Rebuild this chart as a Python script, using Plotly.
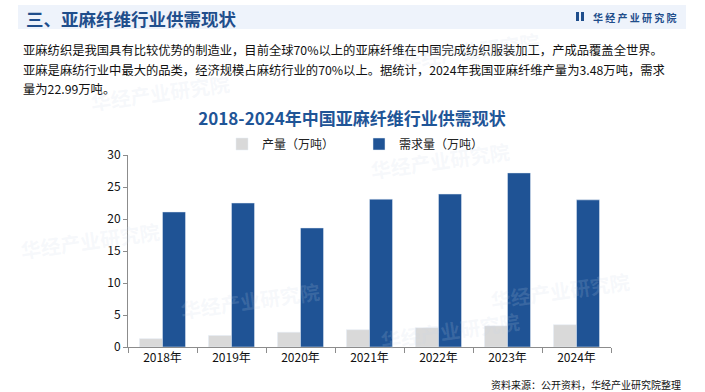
import plotly.graph_objects as go

years = ["2018年", "2019年", "2020年", "2021年", "2022年", "2023年", "2024年"]
supply = [1.3, 1.8, 2.3, 2.7, 3.0, 3.3, 3.48]
demand = [21.1, 22.5, 18.6, 23.1, 23.9, 27.2, 22.99]
series_names = ["产量（万吨）", "需求量（万吨）"]
y_ticks = [0, 5, 10, 15, 20, 25, 30]

W, H = 705, 392
L, R, T, B = 128, 611, 155, 347
FONT = "Noto Sans CJK SC"

def px(x):
    return (x - L) / (R - L)

def py(y):
    return (B - y) / (B - T)

fig = go.Figure()
fig.add_bar(x=years, y=supply, name=series_names[0], marker_color="#d9d9d9")
fig.add_bar(x=years, y=demand, name=series_names[1], marker_color="#1f5395")

shapes = [
    dict(type="rect", xref="paper", yref="paper", x0=px(18), x1=px(686), y0=py(29), y1=py(5),
         fillcolor="#eef3fb", line_width=0, layer="below"),
    dict(type="rect", xref="paper", yref="paper", x0=px(576), x1=px(579), y0=py(21), y1=py(12),
         fillcolor="#1f4e8c", line_width=0),
    dict(type="rect", xref="paper", yref="paper", x0=px(581), x1=px(584), y0=py(21), y1=py(12),
         fillcolor="#1f4e8c", line_width=0),
]

ann = [
    dict(text="<b>三、亚麻纤维行业供需现状</b>", x=px(24), y=py(18), xanchor="left", yanchor="middle",
         font=dict(size=17.5, color="#1f4e8c", family=FONT)),
    dict(text="<b>华 经 产 业 研 究 院</b>", x=px(591), y=py(17), xanchor="left", yanchor="middle",
         font=dict(size=10, color="#1f4e8c", family=FONT)),
    dict(text="亚麻纺织是我国具有比较优势的制造业，目前全球70%以上的亚麻纤维在中国完成纺织服装加工，产成品覆盖全世界。",
         x=px(21), y=py(50), xanchor="left", yanchor="middle", font=dict(size=12.3, color="#111111", family=FONT)),
    dict(text="亚麻是麻纺行业中最大的品类，经济规模占麻纺行业的70%以上。据统计，2024年我国亚麻纤维产量为3.48万吨，需求",
         x=px(21), y=py(70), xanchor="left", yanchor="middle", font=dict(size=12.3, color="#111111", family=FONT)),
    dict(text="量为22.99万吨。",
         x=px(21), y=py(89), xanchor="left", yanchor="middle", font=dict(size=12.3, color="#111111", family=FONT)),
    dict(text="资料来源：公开资料，华经产业研究院整理", x=px(683), y=py(384), xanchor="right", yanchor="middle",
         font=dict(size=10, color="#111111", family=FONT)),
]

# faint watermarks
for (wx, wy) in [(90, 240), (470, 50), (440, 160), (160, 92), (450, 330), (560, 290), (250, 300)]:
    ann.append(dict(text="<b>华经产业研究院</b>", x=px(wx), y=py(wy), xanchor="center", yanchor="middle",
                    textangle=-8, font=dict(size=20, color="rgba(200,212,230,0.16)", family=FONT)))

for a in ann:
    a.setdefault("xref", "paper")
    a.setdefault("yref", "paper")
    a["showarrow"] = False

fig.update_layout(
    width=W, height=H,
    margin=dict(l=L, r=W - R, t=T, b=H - B, pad=0),
    paper_bgcolor="white", plot_bgcolor="white",
    barmode="group", bargap=0.333, bargroupgap=0,
    font=dict(family=FONT, size=12, color="#111111"),
    title=dict(text="<b>2018-2024年中国亚麻纤维行业供需现状</b>", x=352 / W, xanchor="center",
               y=1 - 119 / H, yanchor="middle", font=dict(size=17, color="#1f5597", family=FONT)),
    legend=dict(orientation="h", x=px(222), y=py(144), xanchor="left", yanchor="middle",
                font=dict(size=12, color="#222222"), entrywidth=92, entrywidthmode="pixels",
                bgcolor="rgba(0,0,0,0)", itemclick=False),
    shapes=shapes, annotations=ann,
    showlegend=True,
)
fig.update_xaxes(showline=True, linecolor="#8c8c8c", linewidth=1, ticks="outside", ticklen=5,
                 tickcolor="#8c8c8c", tickson="boundaries", tickfont=dict(size=12, color="#111111"),
                 showgrid=False)
fig.update_yaxes(range=[0, 30], tickvals=y_ticks, showline=True, linecolor="#8c8c8c", linewidth=1,
                 ticks="outside", ticklen=4, tickcolor="#8c8c8c", showgrid=False, zeroline=False,
                 tickfont=dict(size=12, color="#111111"))

fig.write_html("out.html", config={"displayModeBar": False},
               post_script="document.body.style.margin='0';")
